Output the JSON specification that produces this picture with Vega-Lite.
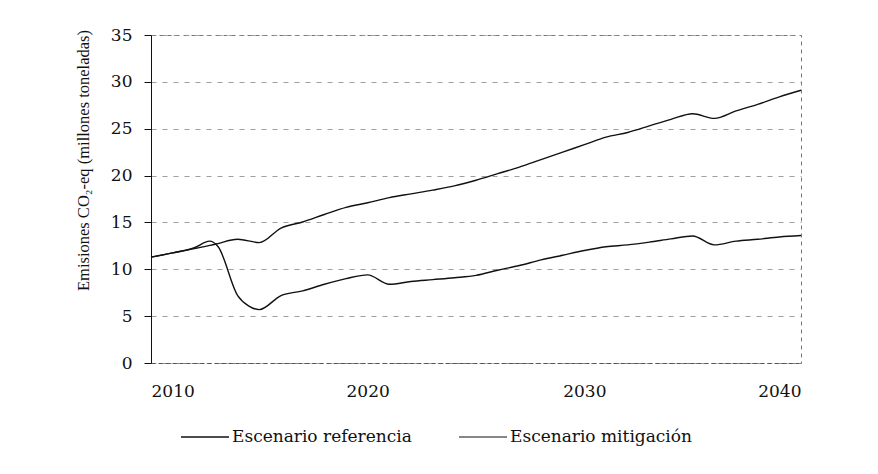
{
  "$schema": "https://vega.github.io/schema/vega-lite/v6.json",
  "autosize": "none",
  "width": 650,
  "height": 328,
  "padding": {"left": 151, "top": 35, "right": 77, "bottom": 111},
  "background": "white",
  "config": {
    "font": "DejaVu Serif",
    "view": {"stroke": "#777", "strokeDash": [4, 4], "strokeWidth": 1},
    "axis": {"labelFont": "DejaVu Serif", "titleFont": "Liberation Serif", "labelColor": "#111", "titleColor": "#111", "labelFontSize": 17, "titleFontSize": 16.5, "titleFontWeight": "normal"},
    "legend": {"labelFont": "DejaVu Serif", "labelFontSize": 17, "labelColor": "#111", "labelLimit": 400}
  },
  "data": {
    "values": [
      {"year": 2010, "value": 11.3, "scenario": "Escenario referencia"},
      {"year": 2011, "value": 11.75, "scenario": "Escenario referencia"},
      {"year": 2012, "value": 12.2, "scenario": "Escenario referencia"},
      {"year": 2013, "value": 12.7, "scenario": "Escenario referencia"},
      {"year": 2014, "value": 13.2, "scenario": "Escenario referencia"},
      {"year": 2015, "value": 12.85, "scenario": "Escenario referencia"},
      {"year": 2016, "value": 14.4, "scenario": "Escenario referencia"},
      {"year": 2017, "value": 15.05, "scenario": "Escenario referencia"},
      {"year": 2018, "value": 15.85, "scenario": "Escenario referencia"},
      {"year": 2019, "value": 16.6, "scenario": "Escenario referencia"},
      {"year": 2020, "value": 17.1, "scenario": "Escenario referencia"},
      {"year": 2021, "value": 17.65, "scenario": "Escenario referencia"},
      {"year": 2022, "value": 18.05, "scenario": "Escenario referencia"},
      {"year": 2023, "value": 18.45, "scenario": "Escenario referencia"},
      {"year": 2024, "value": 18.9, "scenario": "Escenario referencia"},
      {"year": 2025, "value": 19.5, "scenario": "Escenario referencia"},
      {"year": 2026, "value": 20.2, "scenario": "Escenario referencia"},
      {"year": 2027, "value": 20.9, "scenario": "Escenario referencia"},
      {"year": 2028, "value": 21.7, "scenario": "Escenario referencia"},
      {"year": 2029, "value": 22.5, "scenario": "Escenario referencia"},
      {"year": 2030, "value": 23.3, "scenario": "Escenario referencia"},
      {"year": 2031, "value": 24.1, "scenario": "Escenario referencia"},
      {"year": 2032, "value": 24.6, "scenario": "Escenario referencia"},
      {"year": 2033, "value": 25.3, "scenario": "Escenario referencia"},
      {"year": 2034, "value": 26.0, "scenario": "Escenario referencia"},
      {"year": 2035, "value": 26.6, "scenario": "Escenario referencia"},
      {"year": 2036, "value": 26.1, "scenario": "Escenario referencia"},
      {"year": 2037, "value": 26.9, "scenario": "Escenario referencia"},
      {"year": 2038, "value": 27.6, "scenario": "Escenario referencia"},
      {"year": 2039, "value": 28.4, "scenario": "Escenario referencia"},
      {"year": 2040, "value": 29.1, "scenario": "Escenario referencia"},
      {"year": 2010, "value": 11.3, "scenario": "Escenario mitigación"},
      {"year": 2011, "value": 11.75, "scenario": "Escenario mitigación"},
      {"year": 2012, "value": 12.3, "scenario": "Escenario mitigación"},
      {"year": 2012.7, "value": 13.0, "scenario": "Escenario mitigación"},
      {"year": 2013.1, "value": 12.4, "scenario": "Escenario mitigación"},
      {"year": 2014, "value": 7.2, "scenario": "Escenario mitigación"},
      {"year": 2014.5, "value": 6.1, "scenario": "Escenario mitigación"},
      {"year": 2015, "value": 5.7, "scenario": "Escenario mitigación"},
      {"year": 2016, "value": 7.2, "scenario": "Escenario mitigación"},
      {"year": 2017, "value": 7.7, "scenario": "Escenario mitigación"},
      {"year": 2018, "value": 8.4, "scenario": "Escenario mitigación"},
      {"year": 2019, "value": 9.0, "scenario": "Escenario mitigación"},
      {"year": 2020, "value": 9.4, "scenario": "Escenario mitigación"},
      {"year": 2021, "value": 8.4, "scenario": "Escenario mitigación"},
      {"year": 2022, "value": 8.7, "scenario": "Escenario mitigación"},
      {"year": 2023, "value": 8.9, "scenario": "Escenario mitigación"},
      {"year": 2024, "value": 9.1, "scenario": "Escenario mitigación"},
      {"year": 2025, "value": 9.35, "scenario": "Escenario mitigación"},
      {"year": 2026, "value": 9.9, "scenario": "Escenario mitigación"},
      {"year": 2027, "value": 10.4, "scenario": "Escenario mitigación"},
      {"year": 2028, "value": 11.0, "scenario": "Escenario mitigación"},
      {"year": 2029, "value": 11.5, "scenario": "Escenario mitigación"},
      {"year": 2030, "value": 12.0, "scenario": "Escenario mitigación"},
      {"year": 2031, "value": 12.4, "scenario": "Escenario mitigación"},
      {"year": 2032, "value": 12.6, "scenario": "Escenario mitigación"},
      {"year": 2033, "value": 12.9, "scenario": "Escenario mitigación"},
      {"year": 2034, "value": 13.25, "scenario": "Escenario mitigación"},
      {"year": 2035, "value": 13.55, "scenario": "Escenario mitigación"},
      {"year": 2036, "value": 12.6, "scenario": "Escenario mitigación"},
      {"year": 2037, "value": 13.0, "scenario": "Escenario mitigación"},
      {"year": 2038, "value": 13.2, "scenario": "Escenario mitigación"},
      {"year": 2039, "value": 13.45, "scenario": "Escenario mitigación"},
      {"year": 2040, "value": 13.6, "scenario": "Escenario mitigación"}
    ]
  },
  "mark": {"type": "line", "interpolate": "monotone", "strokeWidth": 1.4},
  "encoding": {
    "x": {
      "field": "year", "type": "quantitative",
      "scale": {"domain": [2010, 2040], "nice": false, "zero": false},
      "axis": {"values": [2010, 2020, 2030, 2040], "format": "d", "title": null, "grid": false, "domainColor": "#555", "domainDash": [4, 3], "ticks": false, "labelPadding": 20}
    },
    "y": {
      "field": "value", "type": "quantitative",
      "scale": {"domain": [0, 35], "nice": false},
      "axis": {"values": [0, 5, 10, 15, 20, 25, 30, 35], "title": "Emisiones CO₂-eq (millones toneladas)", "titleX": -60, "titleY": 125, "gridColor": "#888", "gridDash": [5, 6], "gridOpacity": 0.8, "domainColor": "#111", "tickColor": "#111", "tickSize": 7, "labelPadding": 12}
    },
    "color": {
      "field": "scenario", "type": "nominal",
      "scale": {"domain": ["Escenario referencia", "Escenario mitigación"], "range": ["#111", "#111"]},
      "legend": {"title": null, "orient": "none", "direction": "horizontal", "legendX": 29, "legendY": 377, "symbolType": "stroke", "symbolSize": 2304, "symbolStrokeWidth": 1.3, "columnPadding": 44, "labelOffset": 2}
    },
    "strokeWidth": {
      "field": "scenario", "type": "nominal",
      "scale": {"domain": ["Escenario referencia", "Escenario mitigación"], "range": [1.6, 1.1]},
      "legend": null
    }
  }
}
